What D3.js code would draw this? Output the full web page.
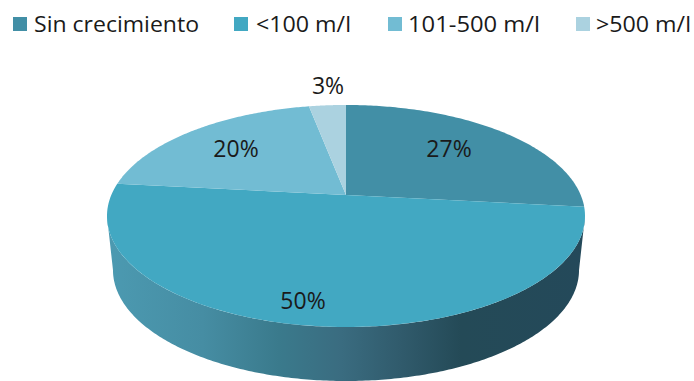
<!DOCTYPE html>
<html><head><meta charset="utf-8">
<script src="https://cdn.jsdelivr.net/npm/d3@7/dist/d3.min.js"></script>
<style>html,body{margin:0;background:#fff}svg{display:block}text{font-family:"Open Sans",sans-serif;fill:#1a1a1a}</style>
</head><body><svg width="694" height="381"></svg>
<script>
const categories = ["Sin crecimiento", "<100 m/l", "101-500 m/l", ">500 m/l"];
const values = [26.7, 50, 20.3, 3];
const colors = ["#428fa6", "#42a8c2", "#72bcd3", "#abd2e0"];
const wallStops = [[0,"#4c9ab1"],[0.2,"#468da3"],[0.36,"#3a7a8c"],[0.49,"#3a6c80"],[0.62,"#305a6b"],[0.74,"#244a57"],[1,"#24495a"]];
const legendSwatchX = [13, 234, 388, 576];
const legendTextX = [34, 256, 408, 596];
const legendTextW = [165, 95, 132, 95];
const labelX = [449, 303, 236, 328];
const labelY = [157, 309, 157, 94];

const svg = d3.select("svg");
const cx = 346, apexY = 195, R = 234.7, persp = -0.189, slope = 70.2, depth = 54;

// perspective-projected unit circle
const px = (u, v) => cx + R * u / (1 + persp * v);
const py = (u, v) => (slope * v + apexY) / (1 + persp * v);
const pt = a => [px(Math.sin(a), -Math.cos(a)), py(Math.sin(a), -Math.cos(a))];
const arcPts = (a0, a1) => d3.range(0, 121).map(i => pt(a0 + (a1 - a0) * i / 120));
const line = d3.line();

const pie = d3.pie().sort(null).value(d => d)(values);

// side wall
const grad = svg.append("defs").append("linearGradient").attr("id", "wall");
grad.selectAll("stop").data(wallStops).join("stop")
  .attr("offset", d => d[0]).attr("stop-color", d => d[1]);

const wideA = Math.acos(persp);
const frontA = d3.range(0, 241).map(i => wideA + (2 * Math.PI - 2 * wideA) * i / 240);
const shrink = x => cx + (x - cx) * 0.975;
const lower = frontA.map(a => { const p = pt(a); return [shrink(p[0]), p[1] + depth]; });
const upper = frontA.map(pt).reverse();
svg.append("path").attr("d", line(lower.concat(upper)) + "Z").attr("fill", "url(#wall)");

// top slices
svg.append("g").selectAll("path").data(pie).join("path")
  .attr("d", d => line([[cx, apexY]].concat(arcPts(d.startAngle, d.endAngle))) + "Z")
  .attr("fill", (d, i) => colors[i]);

// data labels
svg.append("g").selectAll("text").data(values).join("text")
  .attr("x", (d, i) => labelX[i]).attr("y", (d, i) => labelY[i])
  .attr("text-anchor", "middle").attr("font-size", 23).text(d => Math.round(d) + "%");

// legend
const lg = svg.append("g").selectAll("g").data(categories).join("g");
lg.append("rect").attr("x", (d, i) => legendSwatchX[i]).attr("y", 17)
  .attr("width", 14).attr("height", 14).attr("fill", (d, i) => colors[i]);
lg.append("text").attr("x", (d, i) => legendTextX[i]).attr("y", 32).attr("font-size", 22)
  .attr("textLength", (d, i) => legendTextW[i]).attr("lengthAdjust", "spacingAndGlyphs").text(d => d);
</script></body></html>
